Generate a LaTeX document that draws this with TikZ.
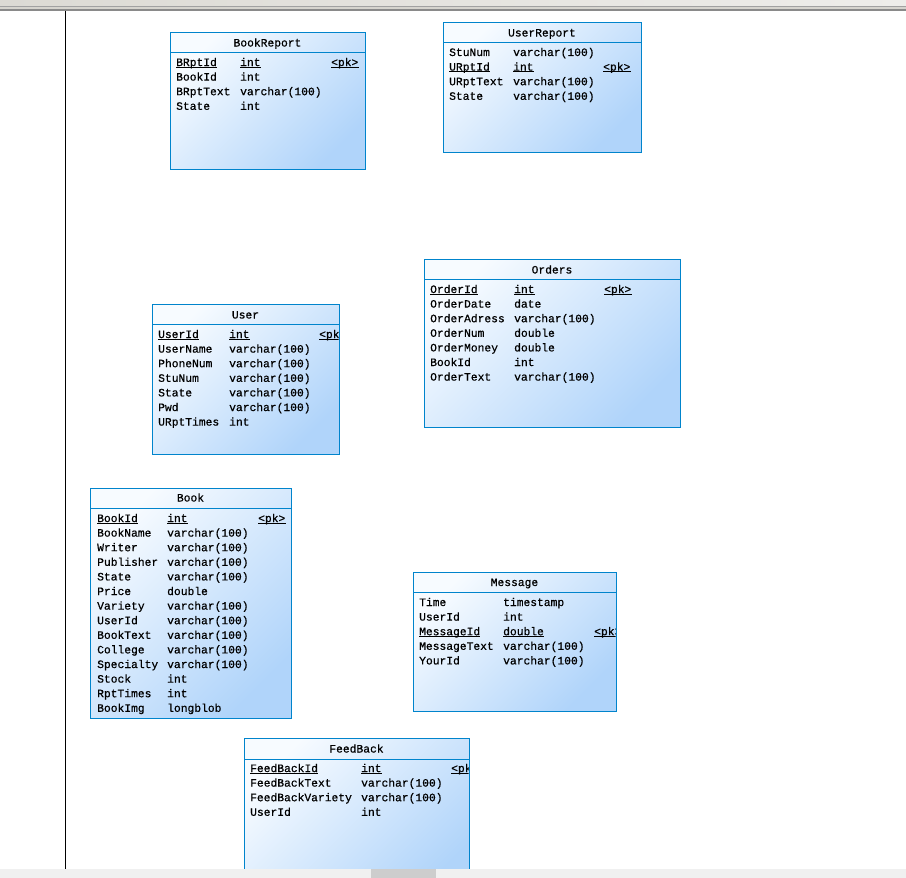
\documentclass[tikz,border=0pt]{standalone}
\usepackage{fontspec}
\newfontfamily\fieldfont{Liberation Mono}[FakeBold=0.6]
\definecolor{tbltop}{RGB}{247,251,255}
\definecolor{tblbot}{RGB}{176,212,250}
\definecolor{tblborder}{RGB}{0,132,204}
\definecolor{barlight}{RGB}{220,218,212}
\definecolor{barlightR}{RGB}{238,237,234}
\definecolor{bardark}{RGB}{138,138,138}
\definecolor{barmid}{RGB}{214,212,206}
\definecolor{scrollbg}{RGB}{240,240,240}
\definecolor{scrollthumb}{RGB}{205,205,205}

% one column row of a table: name and type
\newcommand\fieldrow[7]{%
  \node[fld] (#1-n#2) at (#3,#5) {#6};
  \node[fld] (#1-t#2) at (#4,#5) {#7};}
% underline the key column entries
\newcommand\keyunder[1]{%
  \draw[keyline] (#1.south west) -- (#1.south east);}

\begin{document}
\begin{tikzpicture}[x=1pt,y=-1pt,
  tblfill/.style={top color=tbltop, bottom color=tblbot, shading angle=45},
  tblline/.style={draw=tblborder, line width=1pt},
  txt/.style={inner sep=0pt, font=\fieldfont\fontsize{11.3}{13}\selectfont,
              text height=9pt, text depth=1pt},
  fld/.style={txt, anchor=west},
  ttl/.style={txt},
  keyline/.style={line width=0.8pt, yshift=-0.7pt}]

\useasboundingbox (0,0) rectangle (906,878);
\fill[white] (0,0) rectangle (906,878);

% window frame: top bar and left margin rule
\shade[left color=barlight, right color=barlightR] (0,0) rectangle (906,6);
\fill[bardark!80] (0,6) rectangle (906,7);
\fill[barmid] (0,7) rectangle (906,9);
\fill[bardark] (0,9) rectangle (906,10.6);
\draw[black, line width=1pt] (65,10.6) -- (65,869);

% ---------- BookReport ----------
\shade[tblfill] (170,32) rectangle (365,169);
\draw[tblline] (170,32) rectangle (365,169);
\draw[tblline] (170,52) -- (365,52);
\node[ttl] (br-title) at (267.5,42.5) {BookReport};
\begin{scope}
\clip (170,52) rectangle (365,169);
\foreach \fn/\ft [count=\i from 0] in {BRptId/int,BookId/int,BRptText/varchar(100),State/int}
  {\fieldrow{br}{\i}{176}{240}{62+\i*14.6}{\fn}{\ft}}
\node[fld] (br-pk) at (331,62) {<pk>};
\keyunder{br-n0}\keyunder{br-t0}\keyunder{br-pk}
\end{scope}

% ---------- UserReport ----------
\shade[tblfill] (443,22) rectangle (641,152);
\draw[tblline] (443,22) rectangle (641,152);
\draw[tblline] (443,42) -- (641,42);
\node[ttl] (ur-title) at (542,32.5) {UserReport};
\begin{scope}
\clip (443,42) rectangle (641,152);
\foreach \fn/\ft [count=\i from 0] in {StuNum/varchar(100),URptId/int,URptText/varchar(100),State/varchar(100)}
  {\fieldrow{ur}{\i}{449}{513}{52+\i*14.6}{\fn}{\ft}}
\node[fld] (ur-pk) at (603,66.6) {<pk>};
\keyunder{ur-n1}\keyunder{ur-t1}\keyunder{ur-pk}
\end{scope}

% ---------- Orders ----------
\shade[tblfill] (424,259) rectangle (680,427);
\draw[tblline] (424,259) rectangle (680,427);
\draw[tblline] (424,279) -- (680,279);
\node[ttl] (or-title) at (552,269.5) {Orders};
\begin{scope}
\clip (424,279) rectangle (680,427);
\foreach \fn/\ft [count=\i from 0] in {OrderId/int,OrderDate/date,OrderAdress/varchar(100),OrderNum/double,OrderMoney/double,BookId/int,OrderText/varchar(100)}
  {\fieldrow{or}{\i}{430}{514}{289+\i*14.6}{\fn}{\ft}}
\node[fld] (or-pk) at (604,289) {<pk>};
\keyunder{or-n0}\keyunder{or-t0}\keyunder{or-pk}
\end{scope}

% ---------- User ----------
\shade[tblfill] (152,304) rectangle (339,454);
\draw[tblline] (152,304) rectangle (339,454);
\draw[tblline] (152,324) -- (339,324);
\node[ttl] (us-title) at (245.5,314.5) {User};
\begin{scope}
\clip (152,324) rectangle (338.5,454);
\foreach \fn/\ft [count=\i from 0] in {UserId/int,UserName/varchar(100),PhoneNum/varchar(100),StuNum/varchar(100),State/varchar(100),Pwd/varchar(100),URptTimes/int}
  {\fieldrow{us}{\i}{158}{229}{334+\i*14.6}{\fn}{\ft}}
\node[fld] (us-pk) at (319,334) {<pk>};
\keyunder{us-n0}\keyunder{us-t0}\keyunder{us-pk}
\end{scope}

% ---------- Book ----------
\shade[tblfill] (90,488) rectangle (291,718);
\draw[tblline] (90,488) rectangle (291,718);
\draw[tblline] (90,508) -- (291,508);
\node[ttl] (bk-title) at (190.5,497.5) {Book};
\begin{scope}
\clip (90,508) rectangle (291,718);
\foreach \fn/\ft [count=\i from 0] in {BookId/int,BookName/varchar(100),Writer/varchar(100),Publisher/varchar(100),State/varchar(100),Price/double,Variety/varchar(100),UserId/varchar(100),BookText/varchar(100),College/varchar(100),Specialty/varchar(100),Stock/int,RptTimes/int,BookImg/longblob}
  {\fieldrow{bk}{\i}{97}{167}{518+\i*14.6}{\fn}{\ft}}
\node[fld] (bk-pk) at (258,518) {<pk>};
\keyunder{bk-n0}\keyunder{bk-t0}\keyunder{bk-pk}
\end{scope}

% ---------- Message ----------
\shade[tblfill] (413,572) rectangle (616,711);
\draw[tblline] (413,572) rectangle (616,711);
\draw[tblline] (413,592) -- (616,592);
\node[ttl] (ms-title) at (514.5,582) {Message};
\begin{scope}
\clip (413,592) rectangle (615.5,711);
\foreach \fn/\ft [count=\i from 0] in {Time/timestamp,UserId/int,MessageId/double,MessageText/varchar(100),YourId/varchar(100)}
  {\fieldrow{ms}{\i}{419}{503}{602+\i*14.6}{\fn}{\ft}}
\node[fld] (ms-pk) at (594,631.2) {<pk>};
\keyunder{ms-n2}\keyunder{ms-t2}\keyunder{ms-pk}
\end{scope}

% ---------- FeedBack ----------
\shade[tblfill] (244,738) rectangle (469,900);
\draw[tblline] (244,738) rectangle (469,900);
\draw[tblline] (244,759) -- (469,759);
\node[ttl] (fb-title) at (356.5,748.5) {FeedBack};
\begin{scope}
\clip (244,759) rectangle (468.5,869);
\foreach \fn/\ft [count=\i from 0] in {FeedBackId/int,FeedBackText/varchar(100),FeedBackVariety/varchar(100),UserId/int}
  {\fieldrow{fb}{\i}{250}{361}{768+\i*14.6}{\fn}{\ft}}
\node[fld] (fb-pk) at (451,768) {<pk>};
\keyunder{fb-n0}\keyunder{fb-t0}\keyunder{fb-pk}
\end{scope}

% horizontal scroll bar
\fill[scrollbg] (0,869) rectangle (906,878);
\fill[scrollthumb] (371,869) rectangle (436,878);
\end{tikzpicture}
\end{document}
